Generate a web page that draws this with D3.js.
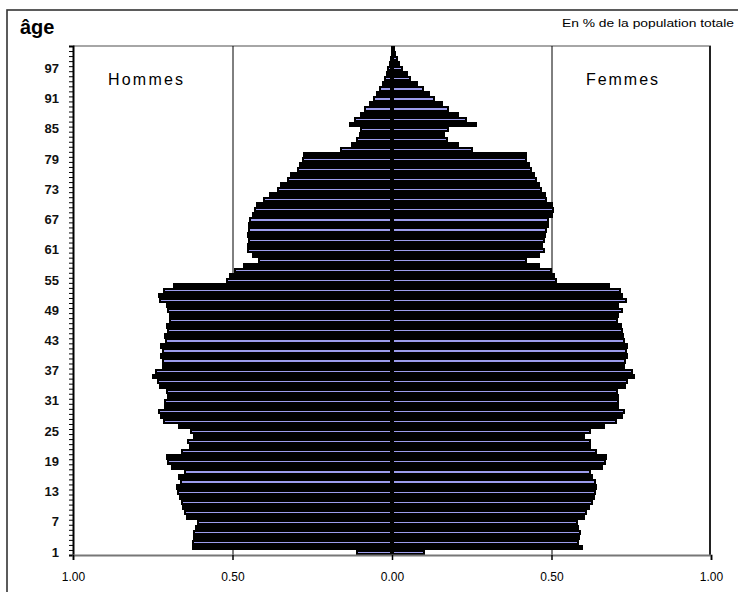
<!DOCTYPE html>
<html>
<head>
<meta charset="utf-8">
<script src="https://cdn.jsdelivr.net/npm/d3@7"></script>
<style>
  html, body { margin: 0; padding: 0; background: #fff; }
  svg { display: block; }
  text { font-family: "Liberation Sans", Arial, sans-serif; }
</style>
</head>
<body>
<svg id="chart" width="738" height="592"></svg>
<script>
// ---- data ----
const ages = d3.range(1, 102); // categories 1..101
const hommes = [
  0.113, 0.628, 0.628, 0.625, 0.623, 0.618, 0.612, 0.646, 0.652, 0.658,
  0.662, 0.667, 0.673, 0.677, 0.665, 0.670, 0.652, 0.694, 0.704, 0.708,
  0.662, 0.635, 0.643, 0.623, 0.633, 0.670, 0.717, 0.727, 0.735, 0.715,
  0.715, 0.706, 0.708, 0.729, 0.737, 0.753, 0.743, 0.722, 0.722, 0.727,
  0.722, 0.727, 0.712, 0.715, 0.706, 0.708, 0.700, 0.700, 0.706, 0.708,
  0.730, 0.735, 0.719, 0.685, 0.520, 0.510, 0.495, 0.466, 0.419, 0.440,
  0.455, 0.455, 0.450, 0.453, 0.450, 0.450, 0.447, 0.440, 0.434, 0.426,
  0.404, 0.385, 0.361, 0.351, 0.330, 0.320, 0.299, 0.293, 0.283, 0.278,
  0.163, 0.127, 0.113, 0.105, 0.100, 0.135, 0.120, 0.100, 0.087, 0.072,
  0.060, 0.050, 0.040, 0.030, 0.025, 0.020, 0.015, 0.010, 0.006, 0.004,
  0.003
];
const femmes = [
  0.103, 0.600, 0.587, 0.589, 0.591, 0.587, 0.584, 0.605, 0.612, 0.621,
  0.629, 0.636, 0.639, 0.643, 0.639, 0.631, 0.623, 0.660, 0.670, 0.673,
  0.642, 0.623, 0.623, 0.605, 0.623, 0.668, 0.704, 0.723, 0.730, 0.713,
  0.713, 0.713, 0.710, 0.733, 0.741, 0.762, 0.757, 0.730, 0.733, 0.741,
  0.738, 0.741, 0.730, 0.727, 0.723, 0.720, 0.710, 0.713, 0.725, 0.713,
  0.736, 0.725, 0.717, 0.683, 0.516, 0.510, 0.500, 0.464, 0.422, 0.464,
  0.480, 0.474, 0.480, 0.483, 0.485, 0.492, 0.492, 0.506, 0.508, 0.506,
  0.485, 0.483, 0.469, 0.464, 0.454, 0.448, 0.438, 0.433, 0.422, 0.422,
  0.253, 0.210, 0.176, 0.165, 0.180, 0.265, 0.235, 0.210, 0.180, 0.160,
  0.135, 0.120, 0.100, 0.080, 0.060, 0.050, 0.035, 0.025, 0.018, 0.012,
  0.008
];
const ageTicks = [1, 7, 13, 19, 25, 31, 37, 43, 49, 55, 61, 67, 73, 79, 85, 91, 97];
const xTicks = [-1, -0.5, 0, 0.5, 1];
const titleText = "âge";
const noteText = "En % de la population totale";
const labelH = "Hommes";
const labelF = "Femmes";

// ---- layout ----
const svg = d3.select("#chart");
const plot = { left: 73, right: 711, top: 46, bottom: 555 };

const x = d3.scaleLinear().domain([-1, 1]).range([plot.left, plot.right]);
const y = d3.scaleBand().domain(ages.slice().reverse()).range([plot.top, plot.bottom]).padding(0);
const bw = y.bandwidth();

// outer frame
svg.append("rect")
  .attr("x", 7).attr("y", 10).attr("width", 760).attr("height", 620)
  .attr("fill", "none").attr("stroke", "#333").attr("stroke-width", 1.6);

// titles
svg.append("text").attr("x", 20).attr("y", 34)
  .attr("font-size", 20).attr("font-weight", "bold").attr("fill", "#000")
  .text(titleText);
svg.append("text").attr("x", 562).attr("y", 27)
  .attr("font-size", 10.5).attr("fill", "#000")
  .attr("textLength", 172).attr("lengthAdjust", "spacingAndGlyphs")
  .text(noteText);

// plot top border
svg.append("line")
  .attr("x1", plot.left).attr("x2", plot.right)
  .attr("y1", plot.top).attr("y2", plot.top)
  .attr("stroke", "#888").attr("stroke-width", 1.5);
// plot right border
svg.append("line")
  .attr("x1", plot.right - 1).attr("x2", plot.right - 1)
  .attr("y1", plot.top).attr("y2", plot.bottom)
  .attr("stroke", "#222").attr("stroke-width", 2);

// grid lines at +-0.5
svg.append("g").selectAll("line").data([-0.5, 0.5]).join("line")
  .attr("x1", d => x(d) + 0.5).attr("x2", d => x(d) + 0.5)
  .attr("y1", plot.top).attr("y2", plot.bottom)
  .attr("stroke", "#000").attr("stroke-width", 1);

// bars
const rows = ages.map((a, i) => ({ age: a, h: hommes[i], f: femmes[i] }));
const gBars = svg.append("g").attr("shape-rendering", "crispEdges");

gBars.selectAll("rect.h").data(rows).join("rect")
  .attr("class", "h")
  .attr("x", d => x(-d.h)).attr("width", d => x(0) - x(-d.h))
  .attr("y", d => y(d.age)).attr("height", bw + 0.3)
  .attr("fill", "#000");
gBars.selectAll("rect.f").data(rows).join("rect")
  .attr("class", "f")
  .attr("x", x(0)).attr("width", d => x(d.f) - x(0))
  .attr("y", d => y(d.age)).attr("height", bw + 0.3)
  .attr("fill", "#000");

// inner fill stripes (visible interior of outlined bars)
const striped = rows.filter(d => d.age % 2 === 1);
const stripeColor = "#9c9cec";
gBars.selectAll("rect.hs").data(striped).join("rect")
  .attr("class", "hs")
  .attr("x", d => x(-d.h) + 2).attr("width", d => Math.max(0, x(0) - x(-d.h) - 4))
  .attr("y", d => y(d.age) + bw / 2 - 0.5).attr("height", 1.2)
  .attr("fill", stripeColor);
gBars.selectAll("rect.fs").data(striped).join("rect")
  .attr("class", "fs")
  .attr("x", x(0) + 2).attr("width", d => Math.max(0, x(d.f) - x(0) - 4))
  .attr("y", d => y(d.age) + bw / 2 - 0.5).attr("height", 1.2)
  .attr("fill", stripeColor);

// centre line
svg.append("line")
  .attr("x1", x(0)).attr("x2", x(0))
  .attr("y1", plot.top).attr("y2", plot.bottom)
  .attr("stroke", "#000").attr("stroke-width", 2);

// left axis: minor ticks at category boundaries
const yb = d3.scaleLinear().domain([0, ages.length]).range([plot.bottom, plot.top]);
const gLeft = svg.append("g").attr("transform", `translate(${plot.left},0)`);
gLeft.call(d3.axisLeft(yb).tickValues(d3.range(0, ages.length + 1)).tickSize(4).tickFormat(""))
  .call(g => g.selectAll(".tick line").attr("stroke", "#000").attr("stroke-width", 1))
  .call(g => g.select(".domain").attr("stroke", "#000").attr("stroke-width", 2));

// left axis labels
const gLab = svg.append("g").attr("transform", `translate(${plot.left},0)`);
gLab.call(d3.axisLeft(y).tickValues(ageTicks).tickSize(0).tickPadding(14))
  .call(g => g.select(".domain").remove())
  .call(g => g.selectAll("text")
    .attr("font-family", "'Liberation Sans', Arial, sans-serif")
    .attr("font-size", 13).attr("font-weight", "bold").attr("fill", "#111"));

// bottom axis
const gBot = svg.append("g").attr("transform", `translate(0,${plot.bottom})`);
gBot.call(d3.axisBottom(x).tickValues(xTicks).tickSize(5).tickPadding(12)
    .tickFormat(d => Math.abs(d).toFixed(2)))
  .call(g => g.select(".domain").attr("stroke", "#777").attr("stroke-width", 2))
  .call(g => g.selectAll(".tick line").attr("stroke", "#000").attr("stroke-width", 1.5))
  .call(g => g.selectAll("text")
    .attr("font-family", "'Liberation Sans', Arial, sans-serif")
    .attr("font-size", 12).attr("fill", "#000"));

// series labels
svg.append("text").attr("x", 108).attr("y", 85)
  .attr("font-size", 16).attr("fill", "#000")
  .attr("textLength", 75).attr("lengthAdjust", "spacing")
  .text(labelH);
svg.append("text").attr("x", 586).attr("y", 85)
  .attr("font-size", 16).attr("fill", "#000")
  .attr("textLength", 72).attr("lengthAdjust", "spacing")
  .text(labelF);
</script>
</body>
</html>
